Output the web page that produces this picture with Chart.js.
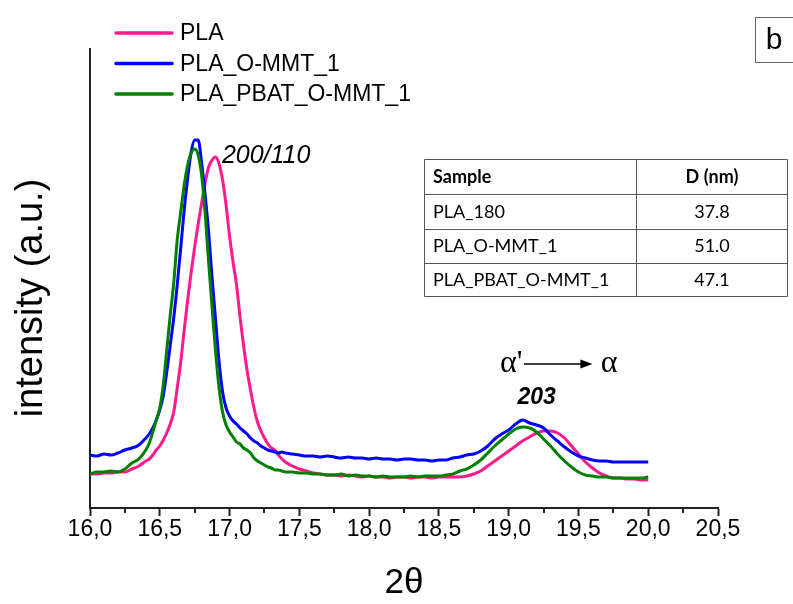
<!DOCTYPE html>
<html>
<head>
<meta charset="utf-8">
<script src="https://cdn.jsdelivr.net/npm/chart.js@4/dist/chart.umd.min.js"></script>
<style>
  html, body { margin: 0; padding: 0; background: #fff; }
  #wrap { width: 793px; height: 604px; }
</style>
</head>
<body>
<div id="wrap"><canvas id="xrd" width="793" height="604"></canvas></div>
<script>
// 2θ positions (degrees) of the sampled diffractogram points
const twoTheta = [16.00,16.05,16.10,16.15,16.20,16.25,16.30,16.35,16.40,16.425,16.45,16.475,16.50,16.525,16.55,16.575,16.60,16.625,16.65,16.675,16.70,16.725,16.75,16.775,16.80,16.825,16.85,16.875,16.90,16.925,16.95,16.975,17.00,17.025,17.05,17.075,17.10,17.125,17.15,17.175,17.20,17.225,17.25,17.275,17.30,17.325,17.35,17.375,17.40,17.45,17.50,17.55,17.60,17.65,17.70,17.75,17.80,17.85,17.90,17.95,18.00,18.05,18.10,18.15,18.20,18.25,18.30,18.35,18.40,18.45,18.50,18.55,18.60,18.65,18.70,18.75,18.80,18.85,18.90,18.95,19.00,19.05,19.10,19.15,19.20,19.25,19.30,19.35,19.40,19.45,19.50,19.55,19.60,19.65,19.70,19.75,19.80,19.85,19.90,19.95,20.00];

// intensity (a.u.) of each sample at those positions
const intensityPLA = [34,34,35,35,36,36,39,42,47,49,53,58,62,68,75,84,96,120,146,178,208,236,261,284,305,325,341,348,351,344,328,303,272,246,223,191,163,138,118,100,86,77,70,64,60,58,53,49,46,42,39,37,35,34,33,33,32,33,32,31,32,31,31,30,31,31,30,31,31,30,31,31,31,31,32,34,37,42,47,52,57,62,67,71,75,77,77,75,70,62,54,46,40,35,32,30,30,29,29,28,28];
const intensityOMMT = [53,52,54,53,55,58,60,63,70,74,80,88,98,112,136,163,190,223,260,298,330,356,368,368,345,313,276,230,188,146,116,100,92,87,84,80,77,74,70,67,65,62,60,58,57,56,55,56,55,54,53,52,52,51,52,51,50,51,50,50,49,50,49,49,48,49,49,48,48,47,48,48,50,51,53,54,57,62,69,74,78,84,88,85,83,80,73,67,61,56,52,50,48,47,47,46,46,46,46,46,46];
const intensityPBAT = [34,36,36,37,36,39,45,49,58,65,76,88,100,123,158,193,225,268,296,323,343,355,359,353,333,295,246,200,156,120,96,83,76,71,66,64,60,58,55,50,47,45,43,41,40,38,38,37,36,36,35,35,34,34,33,33,34,32,33,32,32,31,32,31,31,31,32,31,32,32,32,33,34,37,39,43,48,55,62,68,74,79,81,80,76,69,62,54,47,41,36,33,32,31,31,30,30,30,30,30,31];

const seriesNames = ['PLA', 'PLA_O-MMT_1', 'PLA_PBAT_O-MMT_1'];
const seriesColors = ['#ff1a8c', '#0000ff', '#008000'];

// x axis tick labels use a decimal comma
const xTickLabels = ['16,0','16,5','17,0','17,5','18,0','18,5','19,0','19,5','20,0','20,5'];

// crystallite size table
const tableHeader = ['Sample', 'D (nm)'];
const tableSamples = ['PLA_180', 'PLA_O-MMT_1', 'PLA_PBAT_O-MMT_1'];
const tableD = ['37.8', '51.0', '47.1'];

const series = [intensityPLA, intensityOMMT, intensityPBAT];

const SANS = '"Liberation Sans", Arial, sans-serif';
const NARROW = '"Liberation Sans Narrow", "Arial Narrow", "Liberation Sans", sans-serif';
const SERIF = '"Liberation Serif", "Times New Roman", serif';
const TABLE_FONT = 'Lato, "Open Sans", sans-serif';

const whiteBg = {
  id: 'whiteBg',
  beforeDraw(chart) {
    const c = chart.ctx;
    c.save();
    c.fillStyle = '#fff';
    c.fillRect(0, 0, chart.width, chart.height);
    c.restore();
  }
};

// short minor ticks between the labelled ones
const minorTicks = {
  id: 'minorTicks',
  afterDraw(chart) {
    const xs = chart.scales.x;
    const c = chart.ctx;
    const y0 = chart.chartArea.bottom;
    c.save();
    c.strokeStyle = '#222';
    c.lineWidth = 2;
    for (let v = xs.min + 0.25; v < xs.max; v += 0.5) {
      const px = Math.round(xs.getPixelForValue(v));
      c.beginPath();
      c.moveTo(px, y0);
      c.lineTo(px, y0 + 5);
      c.stroke();
    }
    c.restore();
  }
};

// rotated y axis title
const yTitle = {
  id: 'yTitle',
  afterDraw(chart) {
    const c = chart.ctx;
    c.save();
    c.translate(32, 298);
    c.rotate(-Math.PI / 2);
    c.font = '38px ' + SANS;
    c.fillStyle = '#000';
    c.textAlign = 'center';
    c.textBaseline = 'middle';
    c.fillText('intensity (a.u.)', 0, 0);
    c.restore();
  }
};

// legend with line samples, stacked in the upper left
const lineLegend = {
  id: 'lineLegend',
  afterDraw(chart) {
    const c = chart.ctx;
    c.save();
    chart.data.datasets.forEach((ds, i) => {
      const y = 33 + i * 30.5;
      c.strokeStyle = ds.borderColor;
      c.lineWidth = 3.5;
      c.lineCap = 'round';
      c.beginPath();
      c.moveTo(116, y);
      c.lineTo(172, y);
      c.stroke();
      c.fillStyle = '#000';
      c.font = '23px ' + SANS;
      c.textBaseline = 'middle';
      c.textAlign = 'left';
      c.fillText(ds.label, 180, y + 1);
    });
    c.restore();
  }
};

// reflection labels and the α' → α transition marker
const peakNotes = {
  id: 'peakNotes',
  afterDraw(chart) {
    const xs = chart.scales.x, ys = chart.scales.y;
    const c = chart.ctx;
    c.save();
    c.fillStyle = '#000';
    c.textBaseline = 'alphabetic';

    c.font = 'italic 25px ' + SANS;
    c.textAlign = 'left';
    c.fillText('200/110', xs.getPixelForValue(16.945), ys.getPixelForValue(345));

    c.font = 'bold italic 23px ' + SANS;
    c.textAlign = 'center';
    c.fillText('203', xs.getPixelForValue(19.2), ys.getPixelForValue(104));

    const ay = ys.getPixelForValue(144);
    c.font = '32px ' + SERIF;
    c.textBaseline = 'middle';
    c.textAlign = 'right';
    c.fillText("\u03b1'", xs.getPixelForValue(19.1), ay);
    c.textAlign = 'left';
    c.fillText('\u03b1', xs.getPixelForValue(19.66), ay);

    const x1 = xs.getPixelForValue(19.11), x2 = xs.getPixelForValue(19.6);
    c.strokeStyle = '#000';
    c.lineWidth = 1.5;
    c.beginPath();
    c.moveTo(x1, ay);
    c.lineTo(x2 - 8, ay);
    c.stroke();
    c.beginPath();
    c.moveTo(x2, ay);
    c.lineTo(x2 - 12, ay - 4.5);
    c.lineTo(x2 - 12, ay + 4.5);
    c.closePath();
    c.fill();
    c.restore();
  }
};

// crystallite size table and panel letter
const sizeTable = {
  id: 'sizeTable',
  afterDraw(chart) {
    const c = chart.ctx;
    c.save();
    const left = 424.5, right = 787.5, mid = 636.5;
    const rows = [159.5, 194.5, 229.5, 263.5, 296.5];
    c.strokeStyle = '#555';
    c.lineWidth = 1;
    c.beginPath();
    c.rect(left, rows[0], right - left, rows[rows.length - 1] - rows[0]);
    rows.slice(1, -1).forEach(r => { c.moveTo(left, r); c.lineTo(right, r); });
    c.moveTo(mid, rows[0]); c.lineTo(mid, rows[rows.length - 1]);
    c.stroke();

    c.fillStyle = '#000';
    c.textBaseline = 'middle';
    c.font = 'bold 18px ' + TABLE_FONT;
    c.textAlign = 'left';
    c.fillText(tableHeader[0], 433, (rows[0] + rows[1]) / 2);
    c.textAlign = 'center';
    c.fillText(tableHeader[1], (mid + right) / 2, (rows[0] + rows[1]) / 2);
    c.font = '18px ' + TABLE_FONT;
    tableSamples.forEach((s, i) => {
      const cy = (rows[i + 1] + rows[i + 2]) / 2;
      c.textAlign = 'left';
      c.fillText(s, 433, cy);
      c.textAlign = 'center';
      c.fillText(tableD[i], (mid + right) / 2, cy);
    });

    // panel letter
    c.strokeStyle = '#666';
    c.strokeRect(755.5, 17.5, 50, 45);
    c.font = '30px ' + SANS;
    c.textAlign = 'center';
    c.fillText('b', 774, 41);
    c.restore();
  }
};

new Chart(document.getElementById('xrd'), {
  type: 'line',
  data: {
    datasets: series.map((vals, i) => ({
      label: seriesNames[i],
      data: twoTheta.map((t, k) => ({ x: t, y: vals[k] })),
      borderColor: seriesColors[i],
      backgroundColor: seriesColors[i],
      borderWidth: 3,
      pointRadius: 0,
      fill: false,
      cubicInterpolationMode: 'monotone',
      order: 3 - i
    }))
  },
  options: {
    responsive: false,
    animation: false,
    devicePixelRatio: 1,
    layout: { padding: { left: 0, top: 49, right: 75, bottom: 0 } },
    plugins: {
      legend: { display: false },
      tooltip: { enabled: false },
      title: { display: false }
    },
    scales: {
      x: {
        type: 'linear',
        min: 16,
        max: 20.5,
        position: 'bottom',
        afterFit(scale) { scale.height = 96; },
        border: { display: true, color: '#222', width: 2 },
        grid: { display: true, drawOnChartArea: false, drawTicks: true, tickLength: 8, tickWidth: 2, tickColor: '#222' },
        ticks: {
          stepSize: 0.5,
          autoSkip: false,
          maxRotation: 0,
          padding: 0,
          color: '#000',
          font: { family: NARROW, size: 23 },
          callback: (v) => xTickLabels[Math.round((v - 16) / 0.5)]
        },
        title: {
          display: true,
          text: '2\u03b8',
          color: '#000',
          font: { family: SANS, size: 35 },
          padding: { top: 0, bottom: 0 }
        }
      },
      y: {
        type: 'linear',
        min: 0,
        max: 459,
        afterFit(scale) { scale.width = 90; },
        border: { display: true, color: '#222', width: 2 },
        grid: { display: false, drawTicks: false },
        ticks: { display: false },
        title: { display: false }
      }
    }
  },
  plugins: [whiteBg, minorTicks, yTitle, lineLegend, peakNotes, sizeTable]
});
</script>
</body>
</html>
